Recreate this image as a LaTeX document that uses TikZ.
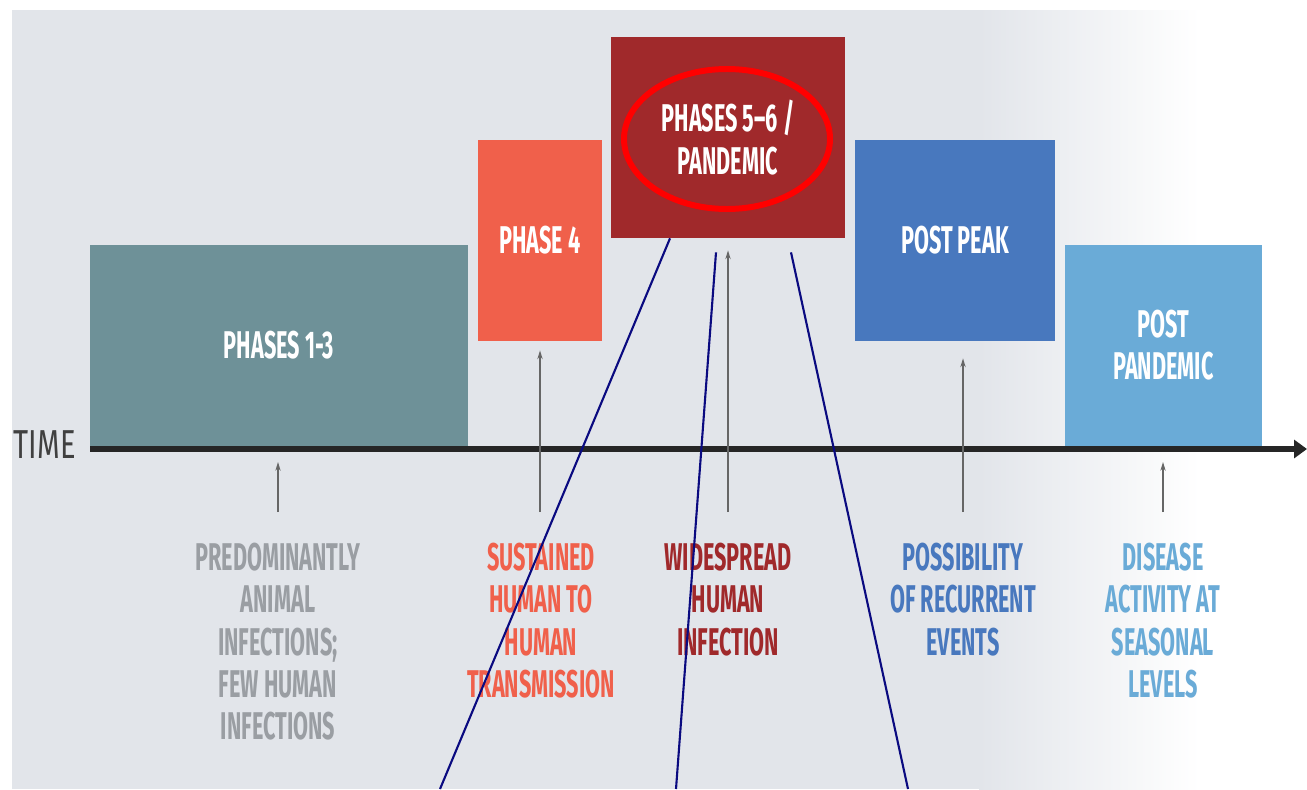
\documentclass[tikz,border=0pt]{standalone}
\usepackage{fontspec}
\usepackage{xcolor}
\usetikzlibrary{arrows.meta,calc}

\newfontfamily\condfont[FakeStretch=0.56]{Fira Sans}
\newfontfamily\axisfont[FakeStretch=0.72]{Fira Sans}

\definecolor{bggray}{HTML}{E2E5EA}
\definecolor{phaseA}{HTML}{6E9198}
\definecolor{phaseB}{HTML}{F0604B}
\definecolor{phaseC}{HTML}{A0292B}
\definecolor{phaseD}{HTML}{4878BE}
\definecolor{phaseE}{HTML}{6AABD7}
\definecolor{notegray}{HTML}{9A9EA3}
\definecolor{navyline}{HTML}{0A0A80}

\tikzset{
  phasebox/.style={rectangle, inner sep=0pt, text=white, align=center,
    minimum height=40.2mm, font=\condfont\bfseries\fontsize{22}{24}\selectfont},
  notelabel/.style={anchor=north, inner sep=0pt, align=center,
    font=\condfont\bfseries\fontsize{22}{24}\selectfont},
  tickarrow/.style={draw=black!60, line width=0.8pt, -{Stealth[length=5pt,width=3pt]}},
  zoomline/.style={draw=navyline, line width=1.2pt},
}

\begin{document}
\begin{tikzpicture}[x=0.2mm, y=-0.2mm]
    \useasboundingbox (0,0) rectangle (1307,789);

    %% background
    \fill[white] (0,0) rectangle (1307,789);
    \fill[bggray] (12,10) rectangle (980,789);
    \shade[left color=bggray, right color=white] (979,10) rectangle (1200,789);

    %% phase boxes
    \node[phasebox, fill=phaseA, minimum width=75.6mm] (ph13) at (279,345) {PHASES 1-3};
    \node[phasebox, fill=phaseB, minimum width=24.8mm] (ph4)  at (540,240.5) {PHASE 4};
    \node[phasebox, fill=phaseC, minimum width=46.8mm] (pan)  at (728,137.5) {PHASES 5–6 /\\PANDEMIC};
    \node[phasebox, fill=phaseD, minimum width=40mm]   (peak) at (955,240.5) {POST PEAK};
    \node[phasebox, fill=phaseE, minimum width=39.4mm] (post) at (1163.5,345) {POST\\PANDEMIC};

    % ring round the pandemic label
    \draw[red, line width=3.4pt] (727,139) ellipse [x radius=20.6mm, y radius=14mm];

    %% time axis
    \coordinate (t0) at (90,449);
    \coordinate (t1) at (1307,449);
    \draw[black!85, line width=3.4pt, -{Triangle[length=2.6mm,width=3.6mm]}] (t0) -- (t1);
    \node[anchor=east, inner sep=0pt, text=black!75,
          font=\axisfont\fontsize{23}{24}\selectfont] (time) at (76,445) {TIME};

    %% notes under the axis
    \node[notelabel, text=notegray] (pred) at (278,543)
        {PREDOMINANTLY\\ANIMAL\\INFECTIONS;\\FEW HUMAN\\INFECTIONS};
    \node[notelabel, text=phaseB] (sust) at (541,543)
        {SUSTAINED\\HUMAN TO\\HUMAN\\TRANSMISSION};
    \node[notelabel, text=phaseC] (wide) at (728,543)
        {WIDESPREAD\\HUMAN\\INFECTION};
    \node[notelabel, text=phaseD] (poss) at (963,543)
        {POSSIBILITY\\OF RECURRENT\\EVENTS};
    \node[notelabel, text=phaseE] (dis) at (1163,543)
        {DISEASE\\ACTIVITY AT\\SEASONAL\\LEVELS};

    %% pointers
    \draw[tickarrow] ($(pred.north)+(0,-31)$) -- ($(pred.north)+(0,-81)$);
    \draw[tickarrow] ($(sust.north)+(-1,-31)$) -- ($(ph4.south)+(0,9)$);
    \draw[tickarrow] ($(wide.north)+(0,-31)$) -- ($(pan.south)+(0,12)$);
    \draw[tickarrow] ($(poss.north)+(0,-31)$) -- ($(peak.south)+(8,17)$);
    \draw[tickarrow] ($(dis.north)+(0,-31)$) -- ($(dis.north)+(0,-81)$);

    %% zoom lines
    \coordinate (z1) at (440,789);
    \coordinate (z2) at (676,789);
    \coordinate (z3) at (908,789);
    \draw[zoomline] ($(pan.south)+(-58,0)$) -- (z1);
    \draw[zoomline] ($(pan.south)+(-12,14)$) -- (z2);
    \draw[zoomline] ($(pan.south)+(63,14)$) -- (z3);
\end{tikzpicture}
\end{document}
